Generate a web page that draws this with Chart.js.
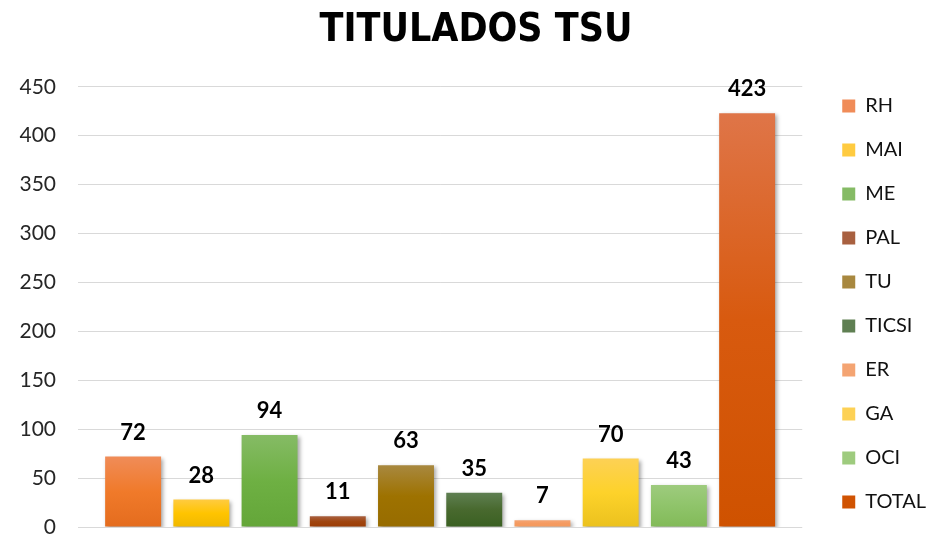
<!DOCTYPE html>
<html>
<head>
<meta charset="utf-8">
<script src="https://cdn.jsdelivr.net/npm/chart.js@4/dist/chart.umd.min.js"></script>
<style>
  html, body { margin: 0; padding: 0; background: #fff; overflow: hidden; }
  canvas { display: block; }
</style>
</head>
<body>
<canvas id="chart" width="943" height="536"></canvas>
<script>
const carreras = ["RH", "MAI", "ME", "PAL", "TU", "TICSI", "ER", "GA", "OCI", "TOTAL"];
const titulados = [72, 28, 94, 11, 63, 35, 7, 70, 43, 423];
const yTicks = [0, 50, 100, 150, 200, 250, 300, 350, 400, 450];

// degradado de cada barra: arriba, medio, abajo
const colorArriba = ["#F08C58", "#FFCB40", "#85BB65", "#A86040", "#A8883F", "#5F7F52", "#F4A472", "#FDD155", "#9ECB7E", "#DF7548"];
const colorMedio  = ["#F07A2A", "#FFC400", "#6EB043", "#A0450F", "#9E7200", "#48692E", "#F59A60", "#FDD22A", "#8FC46A", "#D85A0F"];
const colorAbajo  = ["#E46C1E", "#F0B800", "#64A639", "#9B3C05", "#976C00", "#3A6022", "#F39A5C", "#EBC11E", "#82BA58", "#CF5200"];

const fuente = "Lato, 'Open Sans', sans-serif";

function relleno(i) {
    return (c) => {
        const chart = c.chart;
        if (!chart.chartArea || c.raw === undefined) return colorMedio[i];
        const y = chart.scales.y;
        const top = y.getPixelForValue(c.raw);
        const base = y.getPixelForValue(0);
        if (!isFinite(top) || base - top < 1) return colorMedio[i];
        const g = chart.ctx.createLinearGradient(0, top, 0, base);
        g.addColorStop(0, colorArriba[i]);
        g.addColorStop(0.5, colorMedio[i]);
        g.addColorStop(1, colorAbajo[i]);
        return g;
    };
}

const sombra = {
    id: "sombra",
    beforeDatasetsDraw(chart) {
        const ctx = chart.ctx;
        ctx.save();
        ctx.shadowColor = "rgba(0,0,0,0.35)";
        ctx.shadowBlur = 4;
        ctx.shadowOffsetX = 2;
        ctx.shadowOffsetY = 2;
    },
    afterDatasetsDraw(chart) {
        chart.ctx.restore();
    }
};

const etiquetas = {
    id: "etiquetas",
    afterDraw(chart) {
        const ctx = chart.ctx;
        ctx.save();
        ctx.font = "bold 22px " + fuente;
        ctx.fillStyle = "#000";
        ctx.textAlign = "center";
        ctx.textBaseline = "bottom";
        chart.data.datasets.forEach((ds, i) => {
            const meta = chart.getDatasetMeta(i);
            meta.data.forEach((bar, j) => {
                ctx.fillText(ds.data[j], bar.x, bar.y - 13);
            });
        });
        ctx.restore();
    }
};

new Chart(document.getElementById("chart"), {
    type: "bar",
    data: {
        labels: [""],
        datasets: carreras.map((nombre, i) => ({
            label: nombre,
            data: [titulados[i]],
            backgroundColor: relleno(i),
            borderWidth: 0,
            categoryPercentage: 0.942,
            barPercentage: 0.82
        }))
    },
    options: {
        responsive: false,
        animation: false,
        layout: { padding: { left: 16, right: 7, top: 0, bottom: 0 } },
        plugins: {
            title: {
                display: true,
                text: "TITULADOS TSU",
                color: "#000",
                font: { family: "'Liberation Sans Narrow', 'DejaVu Sans Condensed', Arial, sans-serif", size: 39, weight: "bold" },
                padding: { top: 7, bottom: 33 }
            },
            legend: {
                position: "right",
                align: "end",
                labels: {
                    color: "#111",
                    font: { family: fuente, size: 20 },
                    boxWidth: 13,
                    boxHeight: 13,
                    padding: 24
                }
            },
            tooltip: { enabled: false }
        },
        scales: {
            x: {
                display: false,
                grid: { display: false }
            },
            y: {
                min: 0,
                max: 450,
                afterBuildTicks: (s) => { s.ticks = yTicks.map(v => ({ value: v })); },
                afterFit: (s) => {
                    s.width = 62;
                    s.paddingTop = 12;
                    s.paddingBottom = 9;
                },
                border: { display: false },
                grid: { color: "#d9d9d9", lineWidth: 1, drawTicks: false },
                ticks: {
                    color: "#262626",
                    font: { family: fuente, size: 21 },
                    padding: 22
                }
            },
            derecha: {
                position: "right",
                afterFit: (s) => { s.width = 16; },
                border: { display: false },
                grid: { display: false },
                ticks: { display: false }
            }
        }
    },
    plugins: [sombra, etiquetas]
});
</script>
</body>
</html>
